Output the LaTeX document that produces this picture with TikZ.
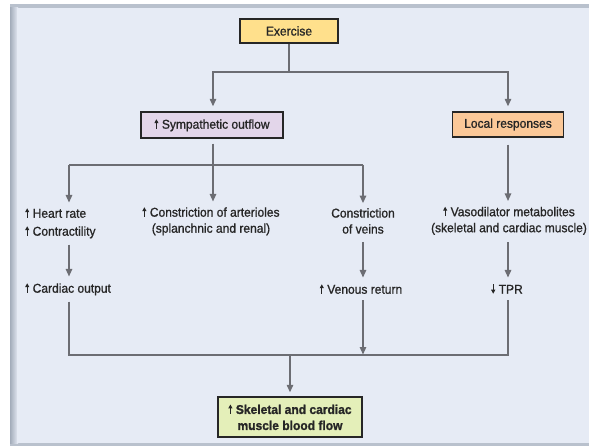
\documentclass[tikz,border=0pt]{standalone}
\usepackage{fontspec}
\setmainfont[FakeBold=1, FakeStretch=0.94]{Liberation Sans}
\newfontfamily\boxbold[FakeBold=1.2, FakeStretch=0.94]{Liberation Sans Bold}
\usetikzlibrary{arrows.meta}
\definecolor{panel}{HTML}{E6EBF5}
\definecolor{panelrim}{HTML}{B9C1CD}
\definecolor{panelshade}{HTML}{A3ACBA}
\definecolor{wire}{HTML}{6C6D73}
\definecolor{ink}{HTML}{262626}
\definecolor{exfill}{HTML}{FFE08C}
\definecolor{sympfill}{HTML}{E3D6EA}
\definecolor{localfill}{HTML}{FBC898}
\definecolor{flowfill}{HTML}{E4EFB9}
\tikzset{
  box/.style={draw=black!85, line width=1.4pt, inner sep=0pt, align=center, text=ink},
  label/.style={inner sep=0pt, align=center, text=ink},
  line/.style={draw=wire, line width=1.3pt},
  arr/.style={line, -{Triangle[width=6.5pt,length=7.5pt]}},
}
% small filled arrow used in front of the quantities
\newcommand{\incr}{\tikz[baseline=0pt]\draw[ink, line width=1.1pt, -{Triangle[width=4pt,length=4pt]}] (0pt,0pt) -- (0pt,9.5pt);\hspace{3.5pt}}
\newcommand{\decr}{\tikz[baseline=0pt]\draw[ink, line width=1.1pt, -{Triangle[width=4pt,length=4pt]}] (0pt,9.5pt) -- (0pt,0pt);\hspace{3.5pt}}
\begin{document}
\begin{tikzpicture}[x=1pt, y=-1pt, font=\fontsize{12.8}{16}\selectfont]
\useasboundingbox (0,0) rectangle (589,446);
% panel with grey rim and soft left shadow
\fill[white] (0,0) rectangle (589,446);
\fill[panelrim] (10,4) rectangle (589,446);
\shade[left color=panelshade, right color=panel] (10,8) rectangle (18,443);
\fill[panel] (17,8) rectangle (589,443);

% boxes
\node[box, fill=exfill, minimum width=98, minimum height=24] (ex) at (289,31) {Exercise};
\node[box, fill=sympfill, minimum width=142, minimum height=26] (symp) at (212,125) {\incr Sympathetic outflow};
\node[box, fill=localfill, minimum width=111, minimum height=25] (loc) at (508,124.5) {Local responses};
\node[box, fill=flowfill, minimum width=144, minimum height=40] (flow) at (290,417)
  {\boxbold\incr Skeletal and cardiac\\\boxbold muscle blood flow};

% column positions
\coordinate (c1) at (69,0);
\coordinate (c2) at (213,0);
\coordinate (c3) at (363,0);
\coordinate (c4) at (508,0);

% text items
\node[label, anchor=west] (hr) at (25,213) {\incr Heart rate};
\node[label, anchor=west] (ct) at (25,232) {\incr Contractility};
\node[label, anchor=west] (co) at (25,289) {\incr Cardiac output};
\node[label] (art) at (211,221) {\incr Constriction of arterioles\\(splanchnic and renal)};
\node[label] (veins) at (363,221) {Constriction\\of veins};
\node[label] (vr) at (361,289) {\incr Venous return};
\node[label] (vaso) at (509,220.5) {\incr Vasodilator metabolites\\(skeletal and cardiac muscle)};
\node[label] (tpr) at (507,289) {\decr TPR};

% junctions
\coordinate (j1) at (289,72);
\coordinate (j2) at (213,165);
\coordinate (j3) at (290,355);

% Exercise branches
\draw[line] (ex) -- (j1);
\draw[arr, shorten >=5pt] (j1) -| (c2 |- symp.north);
\draw[arr, shorten >=5pt] (j1) -| (loc);

% sympathetic outflow branches
\draw[arr, shorten <=5pt, shorten >=5pt] (c2 |- symp.south) -- (c2 |- art.north);
\draw[arr, shorten >=5pt] (c1 |- j2) -- (c1 |- hr.north);
\draw[line] (c1 |- j2) -- (c3 |- j2);
\draw[arr, shorten >=5pt] (c3 |- j2) -- (c3 |- veins.north);

% local responses
\draw[arr, shorten <=7pt, shorten >=5pt] (loc) -- (c4 |- vaso.north);

% second row
\draw[arr, shorten <=6pt, shorten >=6pt] (c1 |- ct.south) -- (c1 |- co.north);
\draw[arr, shorten <=8pt, shorten >=6pt] (c3 |- veins.south) -- (c3 |- vr.north);
\draw[arr, shorten <=7pt, shorten >=6pt] (c4 |- vaso.south) -- (c4 |- tpr.north);

% collecting line
\draw[line, shorten <=6pt, shorten >=6pt] (c1 |- co.south) |- (j3) -| (c4 |- tpr.south);
\draw[arr, shorten <=6pt, shorten >=0.5pt] (c3 |- vr.south) -- (c3 |- j3);
\draw[arr, shorten >=4pt] (j3) -- (flow);
\end{tikzpicture}
\end{document}
